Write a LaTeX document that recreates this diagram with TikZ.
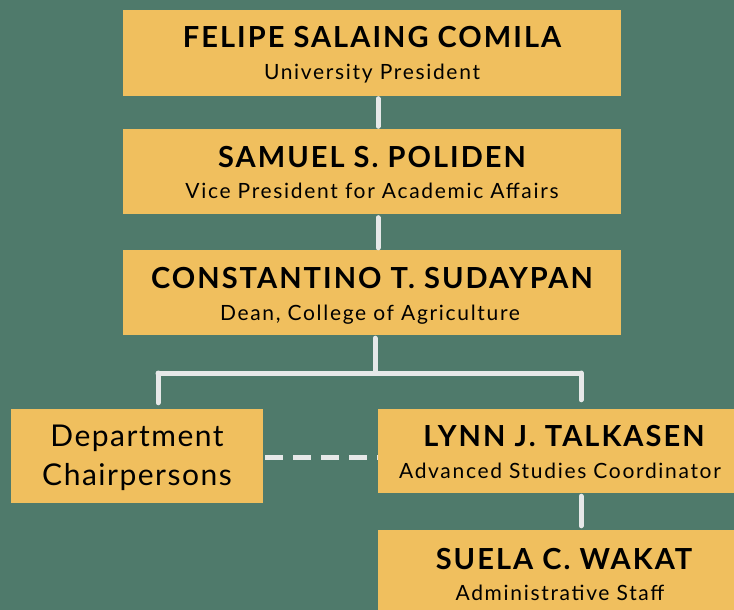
\documentclass[tikz,border=0pt]{standalone}
\usepackage{fontspec}
\setmainfont{Lato}
\newfontfamily\namefont[LetterSpace=7]{Lato Bold}
\newfontfamily\subfont[LetterSpace=8]{Lato}
\newfontfamily\deptfont[LetterSpace=5]{Lato}
\definecolor{bg}{HTML}{4F7A6B}
\definecolor{boxc}{HTML}{F0BF5E}
\definecolor{linec}{HTML}{E6E8E8}
\tikzset{
  box/.style={fill=boxc, draw=none, inner sep=0pt, align=center, text=black},
  conn/.style={draw=linec, line width=5pt, line cap=round},
  nm/.style={font=\namefont\fontsize{29}{32}\selectfont},
  sb/.style={font=\subfont\fontsize{21}{32}\selectfont},
  dp/.style={font=\deptfont\fontsize{30}{39}\selectfont},
}
\begin{document}
\begin{tikzpicture}[x=1pt,y=-1pt]
\fill[bg] (0,0) rectangle (734,610);
\useasboundingbox (0,0) rectangle (734,610);
\clip (0,0) rectangle (734,610);
% boxes
\node[box, minimum width=498pt, minimum height=86pt] (b1) at (372,53) {};
\node[box, minimum width=498pt, minimum height=85pt] (b2) at (372,171.5) {};
\node[box, minimum width=498pt, minimum height=85pt] (b3) at (372,292.5) {};
\node[box, minimum width=252pt, minimum height=94pt] (b4) at (137,456) {};
\node[box, minimum width=356pt, minimum height=84pt] (b5) at (556,451) {};
\node[box, minimum width=356pt, minimum height=90pt] (b6) at (556,575) {};
% texts
\node[nm, anchor=base] (t1a) at (372,48) {FELIPE SALAING COMILA};
\node[sb, anchor=base] (t1b) at (372,80) {University President};
\node[nm, anchor=base] (t2a) at (372,167) {SAMUEL S. POLIDEN};
\node[sb, anchor=base] (t2b) at (372,198) {Vice President for Academic Affairs};
\node[nm, anchor=base] (t3a) at (372,288) {CONSTANTINO T. SUDAYPAN};
\node[sb, anchor=base] (t3b) at (370,320) {Dean, College of Agriculture};
\node[dp, anchor=base] (t4a) at (137,446) {Department};
\node[dp, anchor=base] (t4b) at (137,485) {Chairpersons};
\node[nm, anchor=base] (t5a) at (564,446) {LYNN J. TALKASEN};
\node[sb, anchor=base] (t5b) at (560,478) {Advanced Studies Coordinator};
\node[nm, anchor=base] (t6a) at (564,569) {SUELA C. WAKAT};
\node[sb, anchor=base] (t6b) at (560,600) {Administrative Staff};
% connectors
\coordinate (h1) at (158,373);
\coordinate (h2) at (581,373);
\coordinate (hm) at (375,373);
\draw[conn] ([yshift=-2.5pt]b1.south -| 378,0) -- ([yshift=2.5pt]b2.north -| 378,0);
\draw[conn] ([yshift=-3.5pt]b2.south -| 378,0) -- ([yshift=2pt]b3.north -| 378,0);
\draw[conn] ([yshift=-3pt]b3.south -| 375,0) -- (hm);
\draw[conn] (h1) -- (h2);
\draw[conn] (h1) -- ([yshift=6pt]b4.north -| h1);
\draw[conn] (h2) -- ([yshift=9pt]b5.north -| h2);
\draw[conn, line cap=butt, dash pattern=on 18pt off 10pt] ([xshift=2pt]b4.east |- 0,457) -- (b5.west |- 0,457);
\draw[conn] ([yshift=-3pt]b5.south -| h2) -- ([yshift=4pt]b6.north -| h2);
\end{tikzpicture}
\end{document}
